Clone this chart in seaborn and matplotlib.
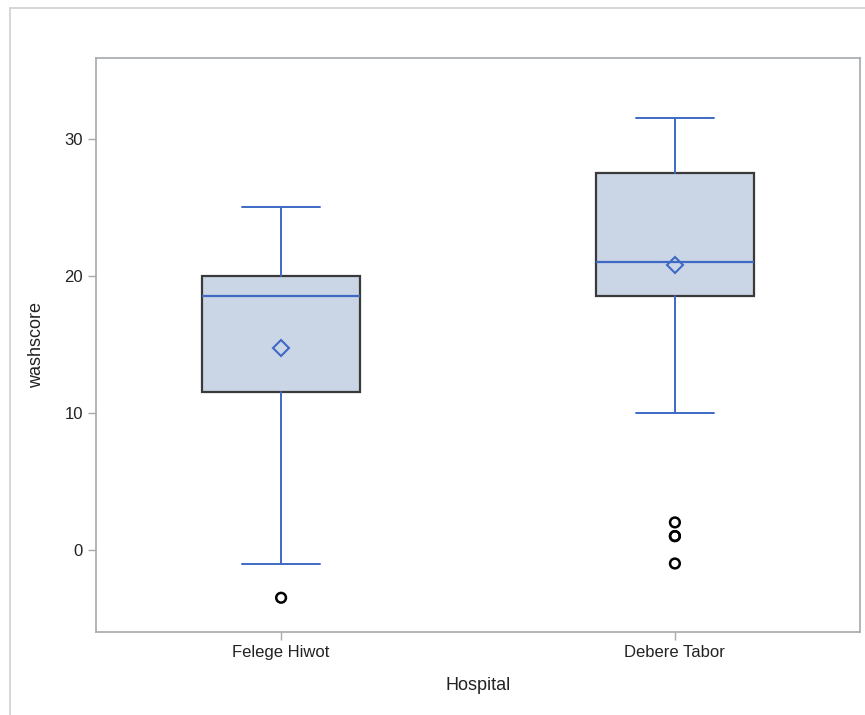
import matplotlib
matplotlib.use("Agg")
import matplotlib.pyplot as plt
import seaborn as sns
import pandas as pd
from matplotlib.lines import Line2D

# summary statistics
hospitals = ["Felege Hiwot", "Debere Tabor"]
q1 = [11.5, 18.5]
median = [18.5, 21.0]
q3 = [20.0, 27.5]
mean = [14.7, 20.8]
whisker_low = [-1.0, 10.0]
whisker_high = [25.0, 31.5]
outliers = [[-3.5], [2.0, 1.0, 1.0, -1.0]]

fill_color = "#CAD5E5"
line_color = "#3E6AC4"
edge_color = "#3A3A3A"
frame_color = "#A6A9AD"

sns.set_style("white")
plt.rcParams["font.family"] = ["Liberation Sans", "DejaVu Sans"]

fig = plt.figure(figsize=(8.65, 7.15), dpi=100)
ax = fig.add_axes([96 / 865, 1 - 632 / 715, (860 - 96) / 865, (632 - 58) / 715])

stats = []
for i, name in enumerate(hospitals):
    stats.append({
        "label": name,
        "q1": q1[i], "med": median[i], "q3": q3[i], "mean": mean[i],
        "whislo": whisker_low[i], "whishi": whisker_high[i],
        "fliers": [],
    })

ax.bxp(stats, positions=[0, 1], widths=0.4, patch_artist=True,
       showmeans=True, showfliers=False,
       boxprops=dict(facecolor=fill_color, edgecolor=edge_color, linewidth=1.6),
       medianprops=dict(color=line_color, linewidth=1.6),
       whiskerprops=dict(color=line_color, linewidth=1.4),
       capprops=dict(color=line_color, linewidth=1.4),
       capwidths=0.2,
       meanprops=dict(marker="D", markerfacecolor="none", markeredgecolor=line_color,
                      markeredgewidth=1.5, markersize=8),
       zorder=2)

# outliers via seaborn
out_df = pd.DataFrame({
    "Hospital": [hospitals[i] for i, vals in enumerate(outliers) for _ in vals],
    "washscore": [v for vals in outliers for v in vals],
})
sns.stripplot(data=out_df, x="Hospital", y="washscore", order=hospitals, jitter=False,
              marker="o", s=7, color="none", edgecolor="black", linewidth=1.8, ax=ax, zorder=3)
for coll in ax.collections:
    coll.set_facecolor("none")
    coll.set_edgecolor("black")

ax.set_xlim(-0.47, 1.47)
ax.set_ylim(-6.0, 35.9)
ax.set_yticks([0, 10, 20, 30])
ax.set_xticks([0, 1])
ax.set_xticklabels(hospitals)

for s in ax.spines.values():
    s.set_color(frame_color)
    s.set_linewidth(1.2)
ax.tick_params(axis="both", which="both", direction="out", length=6, width=1,
               color=frame_color, labelsize=12, labelcolor="#222222", left=True, bottom=True)
ax.set_xlabel("Hospital", fontsize=13, color="#222222", labelpad=12)
ax.set_ylabel("washscore", fontsize=13, color="#222222", labelpad=14)
ax.grid(False)

# outer border of the graph area
fig.add_artist(Line2D([10 / 865, 10 / 865], [0, 1 - 8 / 715], transform=fig.transFigure,
                      color="#D0D0D0", linewidth=1.2))
fig.add_artist(Line2D([10 / 865, 1], [1 - 8 / 715, 1 - 8 / 715], transform=fig.transFigure,
                      color="#D0D0D0", linewidth=1.2))

fig.savefig("out.png", dpi=100)
